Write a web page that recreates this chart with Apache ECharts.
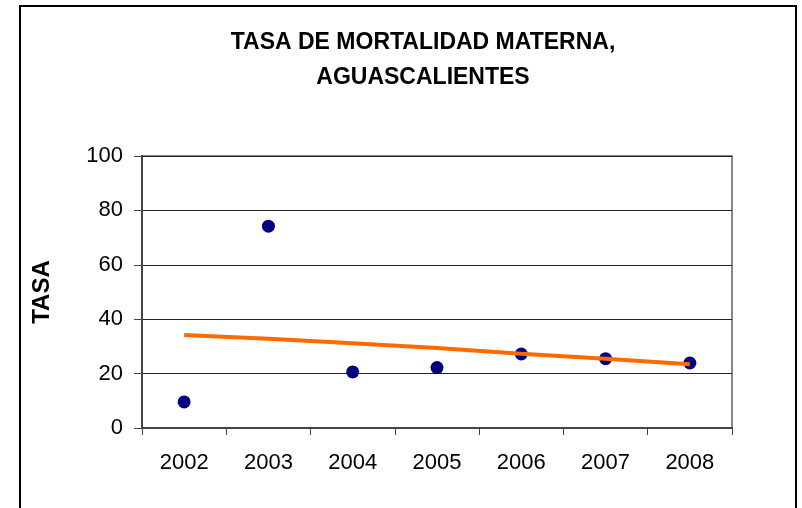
<!DOCTYPE html>
<html>
<head>
<meta charset="utf-8">
<script src="https://cdn.jsdelivr.net/npm/echarts@6/dist/echarts.min.js"></script>
<style>
  html, body { margin: 0; padding: 0; background: #fff; }
  #chart { width: 802px; height: 508px; }
</style>
</head>
<body>
<div id="chart"></div>
<script>
// datos
var years = ['2002', '2003', '2004', '2005', '2006', '2007', '2008']
var tasa = [9.6, 74.2, 20.6, 22.2, 27.2, 25.5, 23.9]
var tendencia = [34.2, 32.8, 31.2, 29.4, 27.3, 25.5, 23.4]
var yTicks = [0, 20, 40, 60, 80, 100]

var chart = echarts.init(document.getElementById('chart'))
var font = 'Liberation Sans, Arial, sans-serif'

var option = {
  animation: false,
  backgroundColor: '#fff',
  title: {
    text: 'TASA DE MORTALIDAD MATERNA,\nAGUASCALIENTES',
    left: 418,
    textAlign: 'center',
    top: 20,
    textStyle: {
      fontFamily: font,
      fontWeight: 'bold',
      fontSize: 23,
      color: '#000',
      lineHeight: 35
    }
  },
  graphic: [{
    type: 'rect',
    shape: { x: 20, y: 6, width: 776, height: 520 },
    style: { fill: 'none', stroke: '#000', lineWidth: 2 },
    z: -1
  }],
  grid: {
    left: 142,
    right: 70,
    top: 156,
    bottom: 80,
    show: true,
    borderColor: '#888',
    borderWidth: 2,
    backgroundColor: 'transparent'
  },
  xAxis: {
    type: 'category',
    data: years,
    boundaryGap: true,
    axisLine: { lineStyle: { color: '#444', width: 2 } },
    axisTick: { show: true, length: 7, lineStyle: { color: '#444', width: 1 } },
    axisLabel: { fontFamily: font, fontSize: 22, color: '#000', margin: 24 },
    splitLine: { show: false }
  },
  yAxis: {
    type: 'value',
    min: 0,
    max: 100,
    interval: 20,
    name: 'TASA',
    nameLocation: 'middle',
    nameGap: 88,
    nameRotate: 90,
    nameTextStyle: { fontFamily: font, fontWeight: 'bold', fontSize: 24, color: '#000' },
    axisLine: { show: true, lineStyle: { color: '#444', width: 2 } },
    axisTick: { show: true, length: 8, lineStyle: { color: '#444', width: 1 } },
    axisLabel: {
      fontFamily: font, fontSize: 22, color: '#000', margin: 19,
      formatter: function (v) { return yTicks.indexOf(v) >= 0 ? String(v) : '' }
    },
    splitLine: { show: true, lineStyle: { color: '#222', width: 1 } }
  },
  series: [{
    name: 'Tendencia',
    type: 'line',
    data: tendencia,
    symbol: 'none',
    smooth: false,
    lineStyle: { color: '#ff6a00', width: 4 },
    z: 3
  }, {
    name: 'Tasa',
    type: 'scatter',
    data: tasa,
    symbol: 'circle',
    symbolSize: 13,
    itemStyle: { color: '#000080', opacity: 1 },
    z: 2
  }]
}
chart.setOption(option)
</script>
</body>
</html>
